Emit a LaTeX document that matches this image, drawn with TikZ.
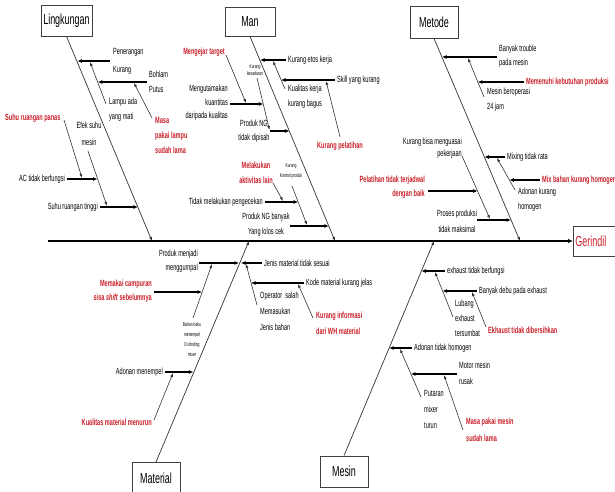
\documentclass[tikz,border=0pt]{standalone}
\usepackage{fontspec}
\setmainfont{Liberation Sans}[FakeStretch=0.62]
\usetikzlibrary{arrows.meta,positioning,calc}
\definecolor{redc}{RGB}{200,30,40}

\tikzset{
  spine/.style={line width=1.4pt, -{Latex[length=5pt,width=4.5pt]}},
  bone/.style={draw=black!80, line width=0.7pt, -{Latex[length=4pt,width=3pt]}},
  sub/.style={draw=black!80, line width=0.6pt, -{Latex[length=4pt,width=3pt]}},
  arr/.style={line width=1.2pt, -{Latex[length=4.5pt,width=4pt]}},
  txt/.style={font=\fontsize{9}{15}\selectfont, inner sep=1pt, align=left},
  rtxt/.style={txt, text=redc, font=\bfseries\fontsize{9}{15}\selectfont},
  tinytxt/.style={font=\fontsize{5.5}{10}\selectfont, inner sep=0pt, align=center},
  catbox/.style={draw=black!75, line width=0.8pt, fill=white,
    font=\fontsize{14.5}{16}\selectfont, inner sep=0pt},
}

\begin{document}
\begin{tikzpicture}[x=1pt,y=-1pt]
\useasboundingbox (0,0) rectangle (615,492);

% effect and spine
\node[draw=black!75, line width=0.8pt, text=redc, anchor=west,
  font=\fontsize{14.5}{16}\selectfont, text width=42pt, align=left,
  inner sep=2pt, minimum height=30pt] (ger) at (573,241) {Gerindil};
\path (48,241) coordinate(s0);
\draw[spine] (s0) -- (ger.west);

% ---- Lingkungan
\node[catbox, minimum width=51pt, minimum height=31pt] (ling) at (66.5,20.5) {Lingkungan};
\path (152,241) coordinate(lb)
      (110,61) coordinate(pk0)   (77.4,61) coordinate(pk1)
      (106,104) coordinate(la0)  (90,62) coordinate(la1)
      (147,82) coordinate(bp0)   (97.8,82) coordinate(bp1)
      (152,118) coordinate(ml0)  (134,83) coordinate(ml1)
      (64,120) coordinate(sp0)   (82,178) coordinate(sp1)
      (67,179) coordinate(ac0)   (97.5,179) coordinate(ac1)
      (88,151) coordinate(es0)   (107,206) coordinate(es1)
      (100,207) coordinate(st0)  (137.9,207) coordinate(st1);
\draw[bone] (ling.south) -- (lb);
\draw[arr] (pk0) -- (pk1);
\draw[sub] (la0) -- (la1);
\draw[arr] (bp0) -- (bp1);
\draw[sub] (ml0) -- (ml1);
\draw[sub] (sp0) -- (sp1);
\draw[arr] (ac0) -- (ac1);
\draw[sub] (es0) -- (es1);
\draw[arr] (st0) -- (st1);
\node[txt, anchor=west] (tpk) at (112,61) {Penerangan\\[3pt]Kurang};
\node[txt, anchor=west] (tla) at (108,110) {Lampu ada\\yang mati};
\node[txt, anchor=west] (tbp) at (148,82) {Bohlam\\Putus};
\node[rtxt, anchor=west] (tml) at (154,135) {Masa\\pakai lampu\\sudah lama};
\node[rtxt, anchor=west] (tsp) at (4,118) {Suhu ruangan panas};
\node[txt, anchor=east] (tac) at (66,179) {AC tidak berfungsi};
\node[txt, anchor=center, align=center] (tes) at (89,134) {Efek suhu\\[2pt]mesin};
\node[txt, anchor=east] (tst) at (99,207) {Suhu ruangan tinggi};

% ---- Man
\node[catbox, minimum width=50pt, minimum height=29pt] (man) at (250,21.5) {Man};
\path (335,241) coordinate(mb)
      (286,60) coordinate(ke0)   (260,60) coordinate(ke1)
      (285,89) coordinate(kk0)   (273,61) coordinate(kk1)
      (335,80) coordinate(sk0)   (281,80) coordinate(sk1)
      (340,137) coordinate(kp0)  (326,81) coordinate(kp1)
      (226,55) coordinate(mt0)   (246,103) coordinate(mt1)
      (230,104) coordinate(mk0)  (263.3,104) coordinate(mk1)
      (257,78) coordinate(ks0)   (269.5,130) coordinate(ks1)
      (270,131) coordinate(pn0)  (289.4,131) coordinate(pn1)
      (273,183) coordinate(ma0)  (283,201) coordinate(ma1)
      (292,186) coordinate(kr0)  (307,225) coordinate(kr1)
      (265,202) coordinate(tm0)  (298.2,202) coordinate(tm1)
      (290,226) coordinate(pb0)  (328.8,226) coordinate(pb1);
\draw[bone] (man.south) -- (mb);
\draw[arr] (ke0) -- (ke1);
\draw[sub] (kk0) -- (kk1);
\draw[arr] (sk0) -- (sk1);
\draw[sub] (kp0) -- (kp1);
\draw[sub] (mt0) -- (mt1);
\draw[arr] (mk0) -- (mk1);
\draw[sub] (ks0) -- (ks1);
\draw[arr] (pn0) -- (pn1);
\draw[sub] (ma0) -- (ma1);
\draw[sub] (kr0) -- (kr1);
\draw[arr] (tm0) -- (tm1);
\draw[arr] (pb0) -- (pb1);
\node[txt, anchor=west] (tke) at (287,60) {Kurang etos kerja};
\node[txt, anchor=west] (tkk) at (287,97) {Kualitas kerja\\kurang bagus};
\node[txt, anchor=west] (tsk) at (336,80) {Skill yang kurang};
\node[rtxt, anchor=west] (tkp) at (316,146) {Kurang pelatihan};
\node[rtxt, anchor=east] (tmt) at (226,52) {Mengejar target};
\node[txt, anchor=east, align=right] (tmk) at (229,103) {Mengutamakan\\[-1.5pt]kuantitas\\[-1.5pt]daripada kualitas};
\node[tinytxt] (tks) at (255,70) {Kurang\\[-3pt]kesadaran};
\node[txt, align=center] (tpn) at (254,131) {Produk NG\\[-1pt]tidak dipisah};
\node[rtxt, align=center] (tma) at (256,173) {Melakukan\\aktivitas lain};
\node[tinytxt] (tkr) at (291,171) {Kurang\\Kontrol produk};
\node[txt, anchor=east] (ttm) at (264,202) {Tidak melakukan pengecekan};
\node[txt, align=center] (tpb) at (266,225) {Produk NG banyak\\Yang lolos cek};

% ---- Metode
\node[catbox, minimum width=48pt, minimum height=32pt] (met) at (434,22) {Metode};
\path (520,241) coordinate(tb)
      (497,57) coordinate(bt0)   (442,57) coordinate(bt1)
      (484,97) coordinate(mb0)   (468,58) coordinate(mb1)
      (524,82) coordinate(mn0)   (477.8,82) coordinate(mn1)
      (462,156) coordinate(kb0)  (490,219) coordinate(kb1)
      (428,191) coordinate(pt0)  (477.6,191) coordinate(pt1)
      (505,157) coordinate(mx0)  (484.4,157) coordinate(mx1)
      (515,190) coordinate(ad0)  (497,158) coordinate(ad1)
      (540,180) coordinate(mh0)  (509.4,180) coordinate(mh1)
      (477,220) coordinate(pp0)  (511,220) coordinate(pp1);
\draw[bone] (met.south) -- (tb);
\draw[arr] (bt0) -- (bt1);
\draw[sub] (mb0) -- (mb1);
\draw[arr] (mn0) -- (mn1);
\draw[sub] (kb0) -- (kb1);
\draw[arr] (pt0) -- (pt1);
\draw[arr] (mx0) -- (mx1);
\draw[sub] (ad0) -- (ad1);
\draw[arr] (mh0) -- (mh1);
\draw[arr] (pp0) -- (pp1);
\node[txt, anchor=west] (tbt) at (498,56) {Banyak trouble\\[-1pt]pada mesin};
\node[txt, anchor=west] (tmb) at (486,100) {Mesin beroperasi\\24 jam};
\node[rtxt, anchor=west] (tmn) at (525,82) {Memenuhi kebutuhan produksi};
\node[txt, anchor=east, align=right] (tkb) at (463,148) {Kurang bisa menguasai\\[-3pt]pekerjaan};
\node[rtxt, anchor=east, align=right] (tpt) at (426,187) {Pelatihan tidak terjadwal\\[-1pt]dengan baik};
\node[txt, anchor=west] (tmx) at (506,157) {Mixing tidak rata};
\node[txt, anchor=west] (tad) at (517,200) {Adonan kurang\\homogen};
\node[rtxt, anchor=west] (tmh) at (541,180) {Mix bahan kurang homogen};
\node[txt, align=center] (tpp) at (457,221) {Proses produksi\\[1pt]tidak maksimal};

% ---- Material
\node[catbox, minimum width=48pt, minimum height=32pt, anchor=north] (mat) at (156,462) {Material};
\path (249,241) coordinate(ab)
      (199,263) coordinate(pm0)  (239,263) coordinate(pm1)
      (262,263) coordinate(jm0)  (241,263) coordinate(jm1)
      (193,318) coordinate(bb0)  (212,264) coordinate(bb1)
      (154,292) coordinate(mc0)  (202,292) coordinate(mc1)
      (165,372) coordinate(am0)  (193.3,372) coordinate(am1)
      (154,420) coordinate(km0)  (173,373) coordinate(km1)
      (257,305) coordinate(os0)  (246,264) coordinate(os1)
      (304,283) coordinate(kj0)  (251.1,283) coordinate(kj1)
      (313,318) coordinate(ki0)  (298,284) coordinate(ki1);
\draw[bone] (mat.north) -- (ab);
\draw[arr] (pm0) -- (pm1);
\draw[arr] (jm0) -- (jm1);
\draw[sub] (bb0) -- (bb1);
\draw[arr] (mc0) -- (mc1);
\draw[arr] (am0) -- (am1);
\draw[sub] (km0) -- (km1);
\draw[sub] (os0) -- (os1);
\draw[arr] (kj0) -- (kj1);
\draw[sub] (ki0) -- (ki1);
\node[txt, anchor=east, align=right] (tpm) at (199,261) {Produk menjadi\\[-1pt]menggumpal};
\node[txt, anchor=west] (tjm) at (263,263) {Jenis material tidak sesuai};
\node[rtxt, anchor=east, align=right] (tmc) at (153,291) {Memakai campuran\\[-1pt]sisa \textit{shift} sebelumnya};
\node[tinytxt] (tbb) at (192,340) {Bahan baku\\menempel\\Di dinding\\mixer};
\node[txt, anchor=east] (tam) at (164,372) {Adonan menempel};
\node[rtxt, anchor=east] (tkm) at (153,422) {Kualitas material menurun};
\node[txt, anchor=west] (tos) at (259,311) {Operator\ \ salah\\[1pt]Memasukan\\[1pt]Jenis bahan};
\node[txt, anchor=west] (tkj) at (305,283) {Kode material kurang jelas};
\node[rtxt, anchor=west] (tki) at (315,323) {Kurang informasi\\[1pt]dari WH material};

% ---- Mesin
\node[catbox, minimum width=48pt, minimum height=31pt] (mes) at (344,471.5) {Mesin};
\path (434,241) coordinate(eb)
      (445,271) coordinate(ex0)  (421.4,271) coordinate(ex1)
      (453,317) coordinate(lu0)  (435,272) coordinate(lu1)
      (477,291) coordinate(bd0)  (442.6,291) coordinate(bd1)
      (486,327) coordinate(ek0)  (472,292) coordinate(ek1)
      (412,348) coordinate(at0)  (389.2,348) coordinate(at1)
      (421,397) coordinate(pu0)  (400,349) coordinate(pu1)
      (457,374) coordinate(mr0)  (410.9,374) coordinate(mr1)
      (463,430) coordinate(mp0)  (444,375) coordinate(mp1);
\draw[bone] (mes.north) -- (eb);
\draw[arr] (ex0) -- (ex1);
\draw[sub] (lu0) -- (lu1);
\draw[arr] (bd0) -- (bd1);
\draw[sub] (ek0) -- (ek1);
\draw[arr] (at0) -- (at1);
\draw[sub] (pu0) -- (pu1);
\draw[arr] (mr0) -- (mr1);
\draw[sub] (mp0) -- (mp1);
\node[txt, anchor=west] (tex) at (446,271) {exhaust tidak berfungsi};
\node[txt, anchor=west] (tbd) at (478,291) {Banyak debu pada exhaust};
\node[txt, anchor=west] (tlu) at (454,318) {Lubang\\exhaust\\tersumbat};
\node[rtxt, anchor=west] (tek) at (487,330) {Ekhaust tidak dibersihkan};
\node[txt, anchor=west] (tat) at (413,348) {Adonan tidak homogen};
\node[txt, anchor=west] (tpu) at (423,409) {Putaran\\[1pt]mixer\\[1pt]turun};
\node[txt, anchor=west] (tmr) at (458,373) {Motor mesin\\[1pt]rusak};
\node[rtxt, anchor=west] (tmp) at (465,430) {Masa pakai mesin\\[2pt]sudah lama};
\end{tikzpicture}
\end{document}
